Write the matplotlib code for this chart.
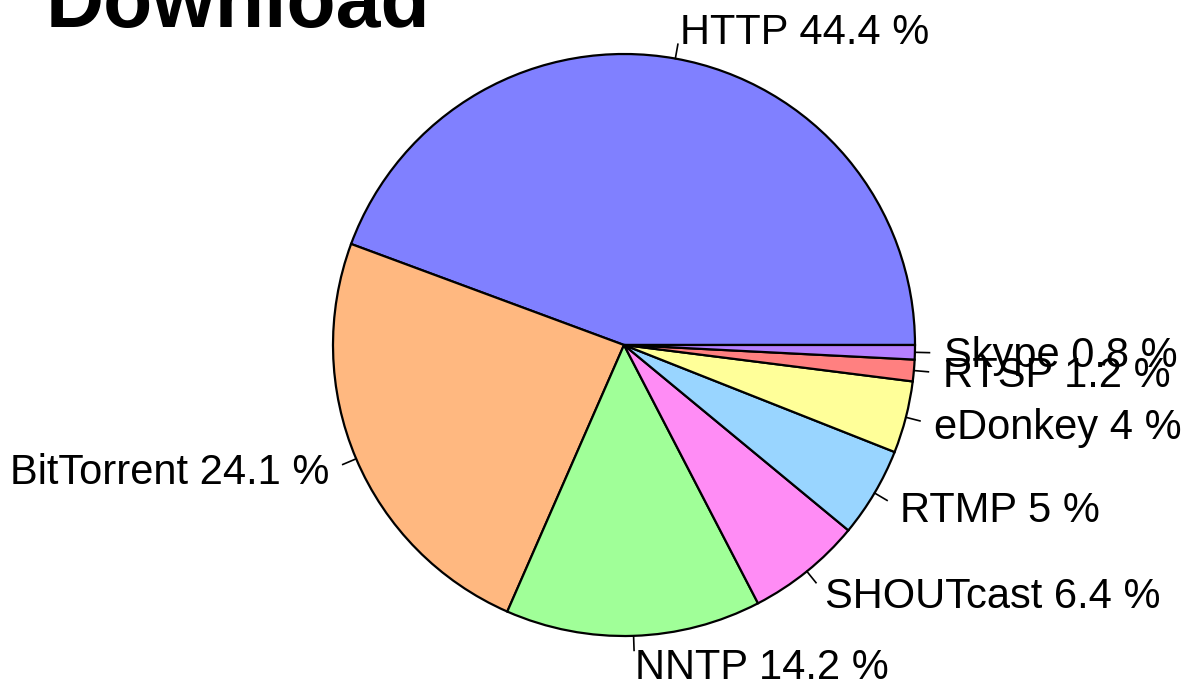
import numpy as np
import matplotlib.pyplot as plt

protocols = ['HTTP', 'BitTorrent', 'NNTP', 'SHOUTcast', 'RTMP', 'eDonkey', 'RTSP', 'Skype']
shares = [44.4, 24.1, 14.2, 6.4, 5, 4, 1.2, 0.8]
colors = ['#8080FF', '#FFB880', '#A0FF98', '#FF8CF5', '#99D5FF', '#FFFF99', '#FF8080', '#B580FF']
labels = [f'{p} {s:g} %' for p, s in zip(protocols, shares)]

W, H = 1185, 683
cx, cy, r = 624, H - 345, 291

plt.rcParams['font.family'] = ['Liberation Sans', 'DejaVu Sans']
fig = plt.figure(figsize=(W / 100, H / 100), dpi=100)
ax = fig.add_axes([0, 0, 1, 1])

wedges, _ = ax.pie(shares, colors=colors, startangle=0,
                   counterclock=True, center=(cx, cy), radius=r, frame=True,
                   wedgeprops=dict(edgecolor='black', linewidth=1.6))

# tick marks from edge to 1.05 radius, labels at 1.1 radius (R style)
for w, lab in zip(wedges, labels):
    mid = np.deg2rad((w.theta1 + w.theta2) / 2)
    c, s = np.cos(mid), np.sin(mid)
    ax.plot([cx + r * c, cx + 1.05 * r * c], [cy + r * s, cy + 1.05 * r * s],
            color='black', lw=1.2)
    ax.text(cx + 1.1 * r * c, cy + 1.1 * r * s - 3, lab, fontsize=30,
            ha='left' if c > 0 else 'right', va='center')

ax.text(46, H - 27, 'Download', fontsize=58, fontweight='bold',
        ha='left', va='baseline')

ax.set_xlim(0, W)
ax.set_ylim(0, H)
ax.set_aspect('equal')
ax.axis('off')

fig.savefig('out.png', dpi=100)
